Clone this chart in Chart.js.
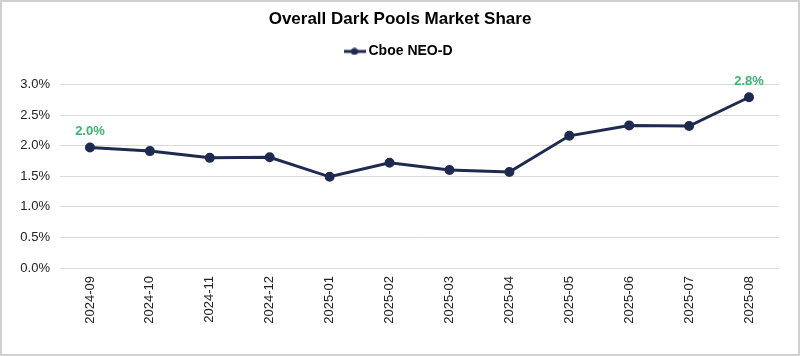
<!DOCTYPE html>
<html>
<head>
<meta charset="utf-8">
<script src="https://cdn.jsdelivr.net/npm/chart.js@4"></script>
<style>
  html, body { margin: 0; padding: 0; background: #fff; }
  #wrap { position: relative; width: 800px; height: 356px; }
</style>
</head>
<body>
<div id="wrap"><canvas id="c" width="800" height="356"></canvas></div>
<script>
const categories = ['2024-09','2024-10','2024-11','2024-12','2025-01','2025-02','2025-03','2025-04','2025-05','2025-06','2025-07','2025-08'];
const neoShare = [1.97, 1.91, 1.80, 1.81, 1.49, 1.72, 1.60, 1.57, 2.16, 2.33, 2.32, 2.79];
const labelledPoints = [0, 11];
const pointLabels = ['2.0%', '2.8%'];

const navy = '#1f2a50';
const green = '#3cb371';

// legend marker: line with dot
const marker = document.createElement('canvas');
marker.width = 22; marker.height = 8;
(function(){
  const g = marker.getContext('2d');
  g.strokeStyle = navy; g.lineWidth = 3;
  g.beginPath(); g.moveTo(0, 4); g.lineTo(22, 4); g.stroke();
  g.fillStyle = navy; g.beginPath(); g.arc(11, 4, 3.5, 0, Math.PI*2); g.fill();
})();

const borderPlugin = {
  id: 'borderPlugin',
  afterDraw(chart) {
    const ctx = chart.ctx;
    ctx.save();
    ctx.strokeStyle = '#d0d0d0';
    ctx.lineWidth = 2;
    ctx.strokeRect(1, 1, chart.width - 2, chart.height - 2);
    ctx.restore();
  }
};

const legendGapPlugin = {
  id: 'legendGap',
  beforeLayout(chart) {
    const lg = chart.legend;
    if (lg && !lg._gapPatched) {
      const orig = lg.fit;
      lg.fit = function() { orig.call(this); this.height += 16; };
      lg._gapPatched = true;
    }
  }
};

const labelPlugin = {
  id: 'labelPlugin',
  afterDatasetsDraw(chart) {
    const ctx = chart.ctx;
    const meta = chart.getDatasetMeta(0);
    ctx.save();
    ctx.fillStyle = green;
    ctx.font = 'bold 13px "Liberation Sans", Arial, sans-serif';
    ctx.textAlign = 'center';
    ctx.textBaseline = 'middle';
    labelledPoints.forEach((idx, i) => {
      const p = meta.data[idx];
      ctx.fillText(pointLabels[i], p.x, p.y - 16);
    });
    ctx.restore();
  }
};

new Chart(document.getElementById('c'), {
  type: 'line',
  data: {
    labels: categories,
    datasets: [{
      label: 'Cboe NEO-D',
      data: neoShare,
      borderColor: navy,
      backgroundColor: navy,
      borderWidth: 3,
      pointRadius: 3.5,
      pointHoverRadius: 3.5,
      pointBackgroundColor: navy,
      pointBorderColor: navy,
      tension: 0
    }]
  },
  options: {
    responsive: false,
    animation: false,
    devicePixelRatio: 1,
    layout: { padding: { left: 0, right: 0, top: 0, bottom: 0 } },
    plugins: {
      title: {
        display: true,
        text: 'Overall Dark Pools Market Share',
        color: '#000',
        font: { family: '"Liberation Sans", Arial, sans-serif', size: 17, weight: 'bold' },
        padding: { top: 9, bottom: 7 }
      },
      legend: {
        display: true,
        position: 'top',
        labels: {
          usePointStyle: true,
          pointStyle: marker,
          color: '#000',
          font: { family: '"Liberation Sans", Arial, sans-serif', size: 14, weight: 'bold' },
          padding: 8
        }
      },
      tooltip: { enabled: false }
    },
    scales: {
      x: {
        offset: true,
        grid: { display: false, drawTicks: false },
        border: { display: false },
        ticks: {
          minRotation: 90, maxRotation: 90,
          color: '#222',
          padding: 8,
          font: { family: '"Liberation Sans", Arial, sans-serif', size: 13 }
        },
        afterFit(scale) { scale.height = 88; }
      },
      y: {
        min: 0, max: 3.0,
        ticks: {
          stepSize: 0.5,
          color: '#222',
          padding: 10,
          font: { family: '"Liberation Sans", Arial, sans-serif', size: 13 },
          callback: v => v.toFixed(1) + '%'
        },
        grid: { color: '#d9d9d9', lineWidth: 1, drawTicks: false },
        border: { display: false },
        afterFit(scale) { scale.width = 60; }
      },
      yRight: {
        position: 'right',
        min: 0, max: 3.0,
        ticks: { display: false },
        grid: { display: false, drawTicks: false },
        border: { display: false },
        afterFit(scale) { scale.width = 21; }
      }
    }
  },
  plugins: [legendGapPlugin, borderPlugin, labelPlugin]
});
</script>
</body>
</html>
